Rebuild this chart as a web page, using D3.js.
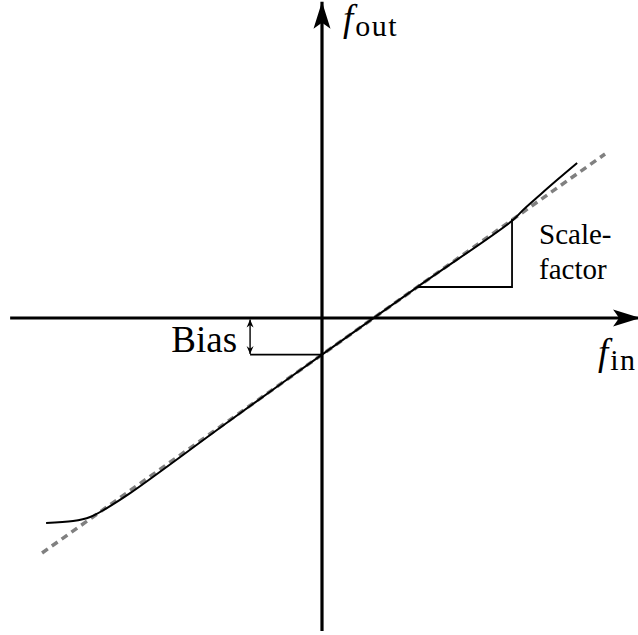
<!DOCTYPE html>
<html>
<head>
<meta charset="utf-8">
<script src="https://cdn.jsdelivr.net/npm/d3@7"></script>
<style>
  body { margin: 0; background: #fff; }
  svg text { font-family: 'Liberation Serif'; }
</style>
</head>
<body>
<div id="chart"></div>
<script>
// transfer characteristic: f_out vs f_in, with bias and scale-factor annotated

const labelFont = 'Liberation Serif';

// axis extents (data units, origin in the middle)
const finAxis = [-10.06, 10.26];
const foutAxis = [-10.1, 10.2];

// ideal straight line (dashed grey)
const idealFin = [-9.03, 9.13];
const idealFout = [-7.58, 5.29];

// measured response (solid), bends off the line at both ends
const curveFin  = [-8.90, -8.03, -7.48, -6.94, -6.19, -3.0, 0.0, 3.06, 6.16, 6.48, 7.03, 7.58, 8.23];
const curveFout = [-6.61, -6.55, -6.42, -6.13, -5.65, -3.33, -1.18, 0.99, 3.16, 3.48, 3.97, 4.45, 5.00];

// bias marker: offset at f_in = 0
const biasValue = -1.18;
const biasFin = -2.32;

// scale-factor triangle (run and rise)
const slopeFin = [3.08, 6.13];
const slopeFout = [1.0, 3.19];

const W = 638, H = 635;

const x = d3.scaleLinear().domain([-10, 10]).range([12, 632]);
const y = d3.scaleLinear().domain([-10, 10]).range([628, 8]);

const svg = d3.select('#chart').append('svg')
  .attr('width', W)
  .attr('height', H);

const defs = svg.append('defs');

// latex-style arrow head for the axes
defs.append('marker')
  .attr('id', 'axis-head')
  .attr('markerUnits', 'userSpaceOnUse')
  .attr('viewBox', '0 -10 30 20')
  .attr('markerWidth', 30)
  .attr('markerHeight', 20)
  .attr('refX', 27)
  .attr('refY', 0)
  .attr('orient', 'auto')
  .append('path')
  .attr('d', 'M27,0 L0,-8.5 Q4,-3 6,0 Q4,3 0,8.5 Z')
  .attr('fill', '#000');

// small heads for the bias bracket
defs.append('marker')
  .attr('id', 'small-head')
  .attr('markerUnits', 'userSpaceOnUse')
  .attr('viewBox', '0 -5 10 10')
  .attr('markerWidth', 10)
  .attr('markerHeight', 10)
  .attr('refX', 8)
  .attr('refY', 0)
  .attr('orient', 'auto-start-reverse')
  .append('path')
  .attr('d', 'M8,0 L0,-3.5 Q2,-1 2.5,0 Q2,1 0,3.5 Z')
  .attr('fill', '#000');

// ideal line first so the solid curve sits on top
svg.append('line')
  .attr('x1', x(idealFin[0])).attr('y1', y(idealFout[0]))
  .attr('x2', x(idealFin[1])).attr('y2', y(idealFout[1]))
  .attr('stroke', '#808080')
  .attr('stroke-width', 3.5)
  .attr('stroke-dasharray', '7,5');

const pts = curveFin.map((d, i) => [d, curveFout[i]]);
svg.append('path')
  .datum(pts)
  .attr('d', d3.line().x(d => x(d[0])).y(d => y(d[1])).curve(d3.curveCatmullRom.alpha(0.5)))
  .attr('fill', 'none')
  .attr('stroke', '#000')
  .attr('stroke-width', 2);

// axes
svg.append('line')
  .attr('x1', x(finAxis[0])).attr('y1', y(0))
  .attr('x2', x(finAxis[1])).attr('y2', y(0))
  .attr('stroke', '#000')
  .attr('stroke-width', 3.2)
  .attr('marker-end', 'url(#axis-head)');

svg.append('line')
  .attr('x1', x(0)).attr('y1', y(foutAxis[0]))
  .attr('x2', x(0)).attr('y2', y(foutAxis[1]))
  .attr('stroke', '#000')
  .attr('stroke-width', 3.2)
  .attr('marker-end', 'url(#axis-head)');

// scale-factor triangle
svg.append('path')
  .attr('d', `M${x(slopeFin[0])},${y(slopeFout[0])} L${x(slopeFin[1])},${y(slopeFout[0])} L${x(slopeFin[1])},${y(slopeFout[1])}`)
  .attr('fill', 'none')
  .attr('stroke', '#000')
  .attr('stroke-width', 1.8);

// bias bracket
svg.append('line')
  .attr('x1', x(biasFin)).attr('y1', y(biasValue))
  .attr('x2', x(0)).attr('y2', y(biasValue))
  .attr('stroke', '#000')
  .attr('stroke-width', 1.8);

svg.append('line')
  .attr('x1', x(biasFin)).attr('y1', y(0) + 1.5)
  .attr('x2', x(biasFin)).attr('y2', y(biasValue) - 0.5)
  .attr('stroke', '#000')
  .attr('stroke-width', 1.4)
  .attr('marker-start', 'url(#small-head)')
  .attr('marker-end', 'url(#small-head)');

// labels
function label(sel, size) {
  return sel
    .attr('font-family', labelFont)
    .style('font-family', `'${labelFont}'`)
    .style('font-size', size + 'px');
}

label(svg.append('text'), 37)
  .attr('x', x(biasFin) - 13)
  .attr('y', 352)
  .attr('text-anchor', 'end')
  .text('Bias');

label(svg.append('text'), 29)
  .attr('x', x(slopeFin[1]) + 27)
  .attr('y', 244)
  .text('Scale-');

label(svg.append('text'), 29)
  .attr('x', x(slopeFin[1]) + 27)
  .attr('y', 279)
  .text('factor');

const fOut = label(svg.append('text'), 37)
  .attr('x', 343)
  .attr('y', 31);
fOut.append('tspan').style('font-style', 'italic').text('f');
fOut.append('tspan').attr('dx', 2).attr('dy', 5)
  .style('font-size', '30px').style('letter-spacing', '1.5px').text('out');

const fIn = label(svg.append('text'), 37)
  .attr('x', 598)
  .attr('y', 365);
fIn.append('tspan').style('font-style', 'italic').text('f');
fIn.append('tspan').attr('dx', 2).attr('dy', 5)
  .style('font-size', '30px').style('letter-spacing', '1.5px').text('in');
</script>
</body>
</html>
